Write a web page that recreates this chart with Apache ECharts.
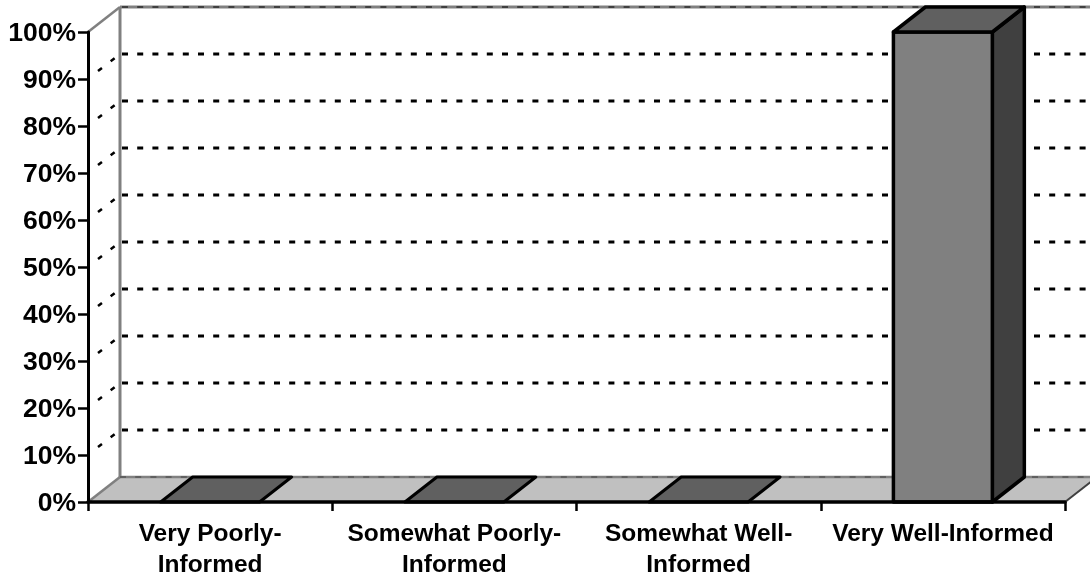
<!DOCTYPE html>
<html><head><meta charset="utf-8">
<style>html,body{margin:0;padding:0;background:#fff}#c{width:1090px;height:578px}</style>
<script src="https://cdn.jsdelivr.net/npm/echarts@6/dist/echarts.min.js"></script>
</head><body><div id="c"></div>
<script>
const categories = ["Very Poorly-\nInformed", "Somewhat Poorly-\nInformed", "Somewhat Well-\nInformed", "Very Well-Informed"];
const values = [0, 0, 0, 100];
const gridValues = [10, 20, 30, 40, 50, 60, 70, 80, 90, 100];

const DX = 32, DY = -25, BAR = 0.405;
const FONT = '"Liberation Sans", Arial, sans-serif';
const chart = echarts.init(document.getElementById('c'), null, {renderer: 'canvas'});
const off = (p) => [p[0] + DX, p[1] + DY];

function renderFloor(params, api) {
  const w = api.size([1, 0])[0];
  const a = api.coord([0, 0]), b = api.coord([categories.length - 1, 0]);
  const l = [a[0] - w / 2, a[1]], r = [b[0] + w / 2, b[1]];
  const top = api.coord([0, 100]);
  const tl = [l[0], top[1]];
  return {type: 'group', children: [
    {type: 'polygon', shape: {points: [l, r, off(r), off(l)]}, style: {fill: '#c0c0c0', stroke: null}},
    {type: 'line', shape: {x1: off(l)[0], y1: off(l)[1], x2: off(r)[0], y2: off(r)[1]}, style: {stroke: '#808080', lineWidth: 2.5, fill: null}},
    {type: 'line', shape: {x1: off(l)[0], y1: off(l)[1], x2: off(l)[0], y2: off(tl)[1]}, style: {stroke: '#808080', lineWidth: 3, fill: null}},
    {type: 'line', shape: {x1: off(tl)[0], y1: off(tl)[1], x2: off(r)[0], y2: off(tl)[1]}, style: {stroke: '#808080', lineWidth: 3, fill: null}},
    {type: 'line', shape: {x1: tl[0], y1: tl[1], x2: off(tl)[0], y2: off(tl)[1]}, style: {stroke: '#808080', lineWidth: 2.5, fill: null}},
    {type: 'line', shape: {x1: l[0], y1: l[1], x2: off(l)[0], y2: off(l)[1]}, style: {stroke: '#808080', lineWidth: 2.5, fill: null}},
    {type: 'line', shape: {x1: r[0], y1: r[1], x2: off(r)[0], y2: off(r)[1]}, style: {stroke: '#404040', lineWidth: 2, fill: null}},
    {type: 'line', shape: {x1: off(l)[0], y1: off(l)[1], x2: off(r)[0], y2: off(r)[1]}, style: {stroke: '#404040', lineWidth: 1, lineDash: [6, 9.2], fill: null}}
  ]};
}
function renderGrid(params, api) {
  const w = api.size([1, 0])[0];
  const a = api.coord([0, api.value(0)]), b = api.coord([categories.length - 1, api.value(0)]);
  const l = [a[0] - w / 2, a[1]], r = [b[0] + w / 2, b[1]];
  const s = off(l), e = off(r);
  const top = api.value(0) >= 100;
  const children = [
    {type: 'line', shape: {x1: s[0] + 2, y1: s[1], x2: e[0], y2: e[1]}, style: {stroke: '#000', lineWidth: top ? 1 : 3, lineDash: [6, 9.2], fill: null}}
  ];
  if (!top) children.push(
    {type: 'line', shape: {x1: l[0] + 10, y1: l[1] - 8, x2: s[0], y2: s[1]}, style: {stroke: '#000', lineWidth: 2.5, lineDash: [5, 11], fill: null}}
  );
  return {type: 'group', children};
}
function renderBar(params, api) {
  const w = api.size([1, 0])[0] * BAR;
  const c0 = api.coord([api.value(0), 0]), c1 = api.coord([api.value(0), api.value(1)]);
  const bl = [c0[0] - w / 2, c0[1]], br = [c0[0] + w / 2, c0[1]];
  const tl = [c1[0] - w / 2, c1[1]], tr = [c1[0] + w / 2, c1[1]];
  const border = {stroke: '#000', lineWidth: 3.5, lineJoin: 'round'};
  const children = [{type: 'polygon', shape: {points: [tl, tr, off(tr), off(tl)]}, style: {fill: '#606060', ...border, lineWidth: api.value(1) > 0 ? 3.5 : 3}}];
  if (api.value(1) > 0) children.unshift(
    {type: 'polygon', shape: {points: [br, tr, off(tr), off(br)]}, style: {fill: '#404040', ...border}},
    {type: 'polygon', shape: {points: [bl, br, tr, tl]}, style: {fill: '#808080', ...border}}
  );
  return {type: 'group', children};
}

chart.setOption({
  animation: false,
  backgroundColor: '#fff',
  grid: {left: 88, right: 25, top: 32, bottom: 76, containLabel: false, outerBoundsMode: 'none'},
  xAxis: {
    type: 'category', data: categories, boundaryGap: true, z: 10,
    axisLine: {show: true, onZero: false, lineStyle: {color: '#000', width: 3.5}},
    axisTick: {show: true, alignWithLabel: false, length: 9, lineStyle: {color: '#000', width: 2.5}},
    axisLabel: {interval: 0, margin: 17, color: '#000', fontFamily: FONT, fontWeight: 'bold', fontSize: 24.5, lineHeight: 31, hideOverlap: false},
    splitLine: {show: false}
  },
  yAxis: {
    type: 'value', min: 0, max: 100, interval: 10, z: 10,
    axisLine: {show: true, lineStyle: {color: '#000', width: 3}},
    axisTick: {show: true, length: 10, lineStyle: {color: '#000', width: 2.5}},
    axisLabel: {margin: 12, verticalAlign: 'top', lineHeight: 4, formatter: '{value}%', color: '#000', fontFamily: FONT, fontWeight: 'bold', fontSize: 26.5},
    splitLine: {show: false}
  },
  series: [
    {type: 'custom', z: 1, clip: false, silent: true, data: [[0]], renderItem: renderFloor},
    {type: 'custom', z: 2, clip: false, silent: true, data: gridValues.map(v => [v]), encode: {y: 0}, renderItem: renderGrid},
    {type: 'custom', z: 3, clip: false, silent: true, data: values.map((v, i) => [i, v]), encode: {x: 0, y: 1}, renderItem: renderBar}
  ]
});
</script></body></html>
